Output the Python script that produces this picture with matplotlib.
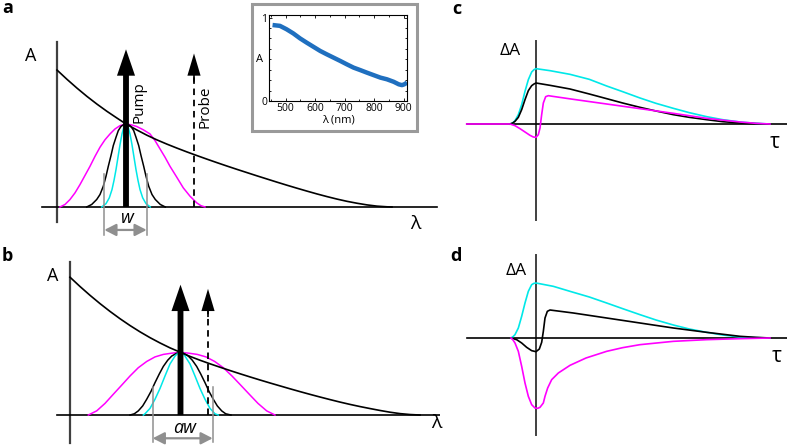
import matplotlib.pyplot as plt
from matplotlib.patches import Rectangle
from matplotlib.ticker import MultipleLocator

plt.rcParams["font.family"] = ["Open Sans", "DejaVu Sans"]

W, H = 787, 446

# ---- panel a: absorption spectrum and pulse spectra (arbitrary units)
abs_a_lam = [0, 1, 2, 3, 4, 5, 6, 6.9, 8, 9, 10, 11, 12, 13, 14, 15, 16, 17, 18, 19, 20, 21, 22,
             23, 24, 25, 26, 27, 28, 29, 30, 31, 32, 33, 33.5]
abs_a_val = [1.65, 1.538, 1.432, 1.332, 1.239, 1.152, 1.071, 1.0, 0.927, 0.864, 0.808, 0.757,
             0.709, 0.663, 0.619, 0.576, 0.534, 0.493, 0.453, 0.414, 0.375, 0.337, 0.299, 0.262,
             0.226, 0.191, 0.157, 0.125, 0.095, 0.068, 0.045, 0.025, 0.010, 0.002, 0.0]
mag_a_lam = [0.3, 0.8, 1.3, 1.8, 2.3, 2.8, 3.3, 3.8, 4.3, 4.8, 5.3, 5.8, 6.3, 6.9, 7.43, 7.97, 8.63,
             9.3, 9.8, 10.3, 10.8, 11.3, 11.97, 12.63, 13.3, 13.97, 14.4, 14.8]
mag_a_val = [0, 0.03, 0.09, 0.17, 0.27, 0.38, 0.49, 0.61, 0.72, 0.81, 0.88, 0.94, 0.98, 1.0, 0.99,
             0.97, 0.93, 0.88, 0.80, 0.70, 0.60, 0.49, 0.36, 0.23, 0.13, 0.05, 0.015, 0]
blk_a_lam = [2.97, 3.47, 3.97, 4.3, 4.63, 4.9, 5.13, 5.4, 5.63, 5.9, 6.13, 6.4, 6.63, 6.9, 7.17, 7.4,
             7.67, 7.9, 8.17, 8.4, 8.67, 8.9, 9.17, 9.5, 9.83, 10.33, 10.83]
blk_a_val = [0, 0.03, 0.09, 0.15, 0.25, 0.37, 0.49, 0.62, 0.74, 0.84, 0.92, 0.97, 0.99, 1.0, 0.99,
             0.97, 0.92, 0.84, 0.74, 0.62, 0.49, 0.37, 0.25, 0.15, 0.09, 0.03, 0]
cya_a_lam = [4.47, 4.9, 5.23, 5.5, 5.7, 5.9, 6.1, 6.3, 6.5, 6.7, 6.9, 7.1, 7.3, 7.5, 7.7, 7.9, 8.1,
             8.3, 8.57, 8.9, 9.33]
cya_a_val = [0, 0.04, 0.11, 0.21, 0.32, 0.45, 0.60, 0.75, 0.88, 0.97, 1.0, 0.97, 0.88, 0.75, 0.60,
             0.45, 0.32, 0.21, 0.11, 0.04, 0]
pump_a = (6.9, 1.90)
probe_a = (13.7, 1.85)
w_a = (4.73, 8.97)

# ---- panel b
abs_b_lam = [0, 1, 2, 3, 4, 5, 6, 7, 8, 9, 10, 11.05, 12, 13, 14, 15, 16, 17, 18, 19, 20, 21, 22,
             23, 24, 25, 26, 27, 28, 29, 30, 31, 32, 33, 34, 35]
abs_b_val = [1.66, 1.548, 1.442, 1.342, 1.248, 1.160, 1.078, 1.002, 0.932, 0.868, 0.809, 0.755,
             0.706, 0.660, 0.617, 0.576, 0.536, 0.497, 0.459, 0.422, 0.386, 0.351, 0.316, 0.282,
             0.249, 0.217, 0.186, 0.156, 0.128, 0.102, 0.078, 0.055, 0.034, 0.017, 0.006, 0.0]
mag_b_lam = [1.83, 2.67, 3.5, 4.33, 5.17, 6.0, 6.83, 7.67, 8.5, 9.33, 10.17, 11.05, 11.87, 12.73,
             13.6, 14.47, 15.33, 16.2, 17.07, 17.93, 18.8, 19.67, 20.5]
mag_b_val = [0, 0.05, 0.14, 0.25, 0.36, 0.47, 0.57, 0.645, 0.70, 0.73, 0.745, 0.755, 0.745, 0.73,
             0.70, 0.645, 0.57, 0.47, 0.36, 0.25, 0.14, 0.05, 0]
blk_b_lam = [6.0, 6.43, 6.83, 7.27, 7.67, 8.1, 8.5, 8.93, 9.33, 9.77, 10.17, 10.6, 11.05, 11.4, 11.83,
             12.23, 12.67, 13.07, 13.5, 13.9, 14.33, 14.73, 15.17, 15.57, 16.1]
blk_b_val = [0, 0.015, 0.05, 0.11, 0.19, 0.285, 0.39, 0.495, 0.585, 0.66, 0.71, 0.74, 0.755, 0.74,
             0.71, 0.66, 0.585, 0.495, 0.39, 0.285, 0.19, 0.11, 0.05, 0.015, 0]
cya_b_lam = [7.33, 7.5, 8.0, 8.5, 9.0, 9.5, 10.0, 10.5, 10.8, 11.05, 11.3, 11.5, 12.0, 12.5, 13.0,
             13.5, 14.0, 14.5, 14.83]
cya_b_val = [0, 0.015, 0.08, 0.19, 0.32, 0.47, 0.615, 0.71, 0.745, 0.755, 0.745, 0.71, 0.615, 0.47,
             0.32, 0.19, 0.08, 0.015, 0]
pump_b = (11.05, 1.57)
probe_b = (13.8, 1.52)
w_b = (8.27, 14.27)

# ---- inset: measured absorbance
ins_nm = [456, 481, 503, 526, 549, 571, 594, 617, 639, 662, 685, 707, 730, 753, 775, 798, 821, 843,
          866, 883, 894, 902, 911]
ins_abs = [0.91, 0.90, 0.86, 0.81, 0.75, 0.70, 0.65, 0.60, 0.56, 0.52, 0.48, 0.44, 0.40, 0.37, 0.34,
           0.31, 0.28, 0.26, 0.23, 0.20, 0.19, 0.20, 0.22]

# ---- panel c: kinetics
c_cya_t = [-0.78, -0.70, -0.63, -0.53, -0.43, -0.33, -0.23, -0.13, -0.06, 0, 0.42, 1.02, 1.6, 2.12,
           2.6, 3.12, 3.6, 4.12, 4.6, 5.12, 5.6, 6.12, 6.6, 7.02]
c_cya_v = [0, 0.03, 0.10, 0.28, 0.58, 0.98, 1.33, 1.56, 1.63, 1.66, 1.60, 1.49, 1.34, 1.14, 0.97,
           0.78, 0.62, 0.47, 0.34, 0.22, 0.13, 0.06, 0.02, 0]
c_blk_t = [-0.78, -0.70, -0.63, -0.53, -0.43, -0.33, -0.23, -0.13, -0.06, 0, 0.42, 1.02, 1.6, 2.12,
           2.6, 3.12, 3.6, 4.12, 4.6, 5.12, 5.6, 6.12, 6.6, 7.02]
c_blk_v = [0, 0.03, 0.08, 0.20, 0.43, 0.73, 1.0, 1.15, 1.20, 1.23, 1.16, 1.05, 0.90, 0.76, 0.63,
           0.50, 0.39, 0.28, 0.20, 0.13, 0.07, 0.03, 0.01, 0]
c_mag_t = [-2.08, -0.78, -0.63, -0.48, -0.33, -0.18, -0.08, 0, 0.07, 0.12, 0.17, 0.22, 0.29, 0.37,
           0.5, 1.12, 2.12, 3.12, 4.12, 5.12, 6.12, 6.6, 7.02]
c_mag_v = [0, 0, -0.05, -0.14, -0.24, -0.34, -0.39, -0.40, -0.32, -0.12, 0.28, 0.63, 0.82, 0.85,
           0.83, 0.74, 0.60, 0.46, 0.32, 0.17, 0.06, 0.02, 0]

# ---- panel d
d_cya_t = [-0.75, -0.69, -0.63, -0.53, -0.43, -0.33, -0.23, -0.13, -0.06, 0, 0.52, 1.02, 1.6, 2.12,
           2.6, 3.12, 3.6, 4.12, 4.6, 5.12, 5.6, 6.12, 6.6, 7.02]
d_cya_v = [0, 0.04, 0.10, 0.30, 0.65, 1.05, 1.40, 1.60, 1.64, 1.65, 1.55, 1.40, 1.23, 1.05, 0.88,
           0.70, 0.54, 0.39, 0.27, 0.17, 0.09, 0.03, 0.01, 0]
d_blk_t = [-0.75, -0.58, -0.43, -0.28, -0.13, 0, 0.10, 0.17, 0.22, 0.27, 0.34, 0.42, 1.12, 2.12, 3.12,
           4.12, 5.12, 6.12, 6.6, 7.02]
d_blk_v = [0, -0.05, -0.15, -0.28, -0.38, -0.41, -0.33, -0.13, 0.20, 0.60, 0.80, 0.84, 0.75, 0.60,
           0.45, 0.30, 0.17, 0.05, 0.02, 0]
d_mag_t = [-0.75, -0.69, -0.63, -0.53, -0.43, -0.33, -0.23, -0.13, -0.03, 0.05, 0.12, 0.22, 0.27,
           0.35, 0.47, 0.67, 1.02, 1.5, 2.12, 2.6, 3.12, 4.12, 5.12, 6.12, 7.02]
d_mag_v = [0, -0.06, -0.15, -0.40, -0.85, -1.35, -1.75, -2.0, -2.10, -2.11, -2.08, -1.95, -1.75,
           -1.50, -1.25, -1.05, -0.82, -0.60, -0.40, -0.29, -0.20, -0.10, -0.05, -0.02, 0]

MAGENTA = "#ff00ff"
CYAN = "#00e8e8"
AXIS = "#404040"
GREY = "#8f8f8f"


def add_panel(fig, left, top, right, bottom, xlim, ylim):
    # rectangle given in figure pixels
    ax = fig.add_axes([left / W, 1 - bottom / H, (right - left) / W, (bottom - top) / H])
    ax.set_xlim(*xlim)
    ax.set_ylim(*ylim)
    ax.axis("off")
    return ax


def big_arrow(ax, x, tip, solid=True):
    if solid:
        ax.annotate("", xy=(x, tip), xytext=(x, 0),
                    arrowprops=dict(arrowstyle="simple,head_length=19,head_width=13,tail_width=4.2",
                                    mutation_scale=1, color="black", lw=0, shrinkA=0, shrinkB=0),
                    zorder=6)
    else:
        ax.plot([x, x], [0, tip - 0.26], color="black", lw=1.3, ls=(0, (3.6, 2.6)), zorder=6)
        ax.annotate("", xy=(x, tip), xytext=(x, tip - 0.34),
                    arrowprops=dict(arrowstyle="simple,head_length=16,head_width=9.5,tail_width=1.2",
                                    mutation_scale=1, color="black", lw=0, shrinkA=0, shrinkB=0),
                    zorder=6)


def width_marker(ax, xs, top, bottom, y, label, label_y):
    for x in xs:
        ax.plot([x, x], [top, bottom], color=GREY, lw=1.1, zorder=2)
    ax.annotate("", xy=(xs[1], y), xytext=(xs[0], y),
                arrowprops=dict(arrowstyle="<|-|>,head_length=7,head_width=3.6", mutation_scale=1,
                                color=GREY, lw=1.6, shrinkA=0, shrinkB=0))
    ax.text((xs[0] + xs[1]) / 2 + 0.15, label_y, label, fontsize=13, style="italic",
            ha="center", va="center")


fig = plt.figure(figsize=(W / 100, H / 100), dpi=100)

# panel a
ax = add_panel(fig, 0, 0, 440, 240, (-5.7, 38.3), (-0.398, 2.494))
ax.plot([0, 0], [-0.18, 1.99], color=AXIS, lw=1.6)
ax.plot([-1.5, 38.0], [0, 0], color="black", lw=1.2)
ax.plot(mag_a_lam, mag_a_val, color=MAGENTA, lw=1.1)
ax.plot(blk_a_lam, blk_a_val, color="black", lw=1.1)
ax.plot(cya_a_lam, cya_a_val, color=CYAN, lw=1.1)
ax.plot(abs_a_lam, abs_a_val, color="black", lw=1.2)
big_arrow(ax, *pump_a)
big_arrow(ax, *probe_a, solid=False)
ax.text(8.25, 1.265, "Pump", rotation=90, fontsize=11, ha="center", va="center")
ax.text(14.85, 1.205, "Probe", rotation=90, fontsize=11, ha="center", va="center")
width_marker(ax, w_a, 0.40, -0.34, -0.277, "w", -0.13)
ax.text(-2.6, 1.82, "A", fontsize=13, ha="center", va="center")
ax.text(35.8, -0.205, "λ", fontsize=14, ha="center", va="center")
fig.text(2 / W, 1 - 8 / H, "a", fontsize=13, fontweight="bold", va="center")

# inset
box = Rectangle((252 / W, 1 - 131 / H), 165 / W, 127 / H, transform=fig.transFigure,
                facecolor="white", edgecolor="#9a9a9a", lw=2.2, zorder=1.5)
fig.add_artist(box)
ins = fig.add_axes([269.3 / W, 1 - 101 / H, 137.4 / W, 86 / H])
ins.set_zorder(2)
ins.plot(ins_nm, ins_abs, color="#1f6fbf", lw=3.2, solid_capstyle="butt")
ins.set_xlim(445, 910)
ins.set_ylim(0, 1.03)
ins.set_xticks([500, 600, 700, 800, 900])
ins.set_yticks([0, 1])
ins.xaxis.set_minor_locator(MultipleLocator(50))
ins.yaxis.set_minor_locator(MultipleLocator(0.125))
ins.tick_params(which="both", direction="in", top=True, right=True, labelsize=7.5, pad=1.5,
                width=0.6)
ins.tick_params(which="major", length=2.5)
ins.tick_params(which="minor", length=1.5)
for s in ins.spines.values():
    s.set_linewidth(0.8)
ins.set_xlabel("λ (nm)", fontsize=8, labelpad=0)
ins.text(-0.045, 0.48, "A", transform=ins.transAxes, fontsize=8, ha="right", va="center")

# panel b
bx = add_panel(fig, 0, 240, 440, 446, (-7.0, 37.0), (-0.373, 2.108))
bx.plot([0, 0], [-0.34, 1.84], color=AXIS, lw=1.6)
bx.plot([-1.3, 37.0], [0, 0], color="black", lw=1.2)
bx.plot(mag_b_lam, mag_b_val, color=MAGENTA, lw=1.1)
bx.plot(blk_b_lam, blk_b_val, color="black", lw=1.1)
bx.plot(cya_b_lam, cya_b_val, color=CYAN, lw=1.1)
bx.plot(abs_b_lam, abs_b_val, color="black", lw=1.2)
big_arrow(bx, *pump_b)
big_arrow(bx, *probe_b, solid=False)
width_marker(bx, w_b, 0.34, -0.32, -0.28, "aw", -0.16)
bx.text(-1.75, 1.67, "A", fontsize=13, ha="center", va="center")
bx.text(36.6, -0.1, "λ", fontsize=14, ha="center", va="center")
fig.text(2 / W, 1 - 256 / H, "b", fontsize=13, fontweight="bold", va="center")


def kinetics(ax, traces, top, bottom):
    ax.plot([0, 0], [top, bottom], color=AXIS, lw=1.4, zorder=1)
    ax.plot([-2.08, 7.52], [0, 0], color="black", lw=1.2, zorder=1)
    for t, v, col in traces:
        ax.plot(t, v, color=col, lw=1.2, zorder=3)


# panel c
cx = add_panel(fig, 440, 0, 787, 225, (-2.88, 7.53), (-3.03, 3.72))
kinetics(cx, [(c_cya_t, c_cya_v, CYAN), (c_blk_t, c_blk_v, "black"), (c_mag_t, c_mag_v, MAGENTA)],
         2.48, -2.87)
cx.text(-0.78, 2.19, "ΔA", fontsize=12.5, ha="center", va="center")
cx.text(7.17, -0.57, "τ", fontsize=15, ha="center", va="center")
fig.text(452 / W, 1 - 9 / H, "c", fontsize=13, fontweight="bold", va="center")

# panel d
dx = add_panel(fig, 440, 225, 787, 446, (-2.88, 7.53), (-3.24, 3.39))
kinetics(dx, [(d_cya_t, d_cya_v, CYAN), (d_blk_t, d_blk_v, "black"), (d_mag_t, d_mag_v, MAGENTA)],
         2.5, -2.9)
dx.text(-0.6, 2.01, "ΔA", fontsize=12.5, ha="center", va="center")
dx.text(7.23, -0.57, "τ", fontsize=15, ha="center", va="center")
fig.text(450 / W, 1 - 256 / H, "d", fontsize=13, fontweight="bold", va="center")

fig.savefig("out.png", dpi=100)
